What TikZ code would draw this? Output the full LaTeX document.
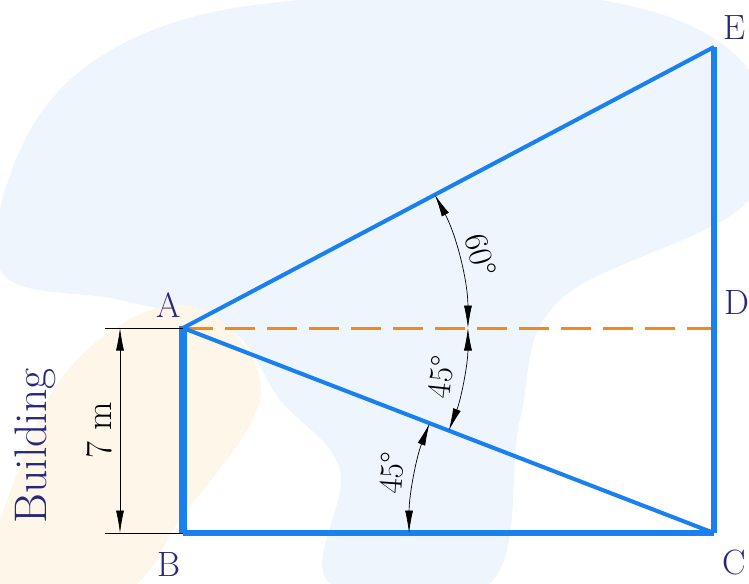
\documentclass[tikz,border=0pt]{standalone}
\usepackage{fontspec}
\usetikzlibrary{arrows.meta,positioning}
\definecolor{lineblue}{HTML}{1A80F0}
\definecolor{navy}{HTML}{28287A}
\definecolor{dashorange}{HTML}{F58A12}
\definecolor{washblue}{HTML}{EFF5FC}
\definecolor{washsand}{HTML}{FDF6E9}

\begin{document}
\begin{tikzpicture}[x=0.02cm,y=0.02cm,>=Latex]
  \tikzset{ptlabel/.style={text=navy,font=\fontsize{20}{22}\selectfont},
    side/.style={lineblue,line width=2.3pt},
    dimline/.style={black,thin,<->,>={Latex[length=4.5mm,width=1.6mm]}},
    anglabel/.style={font=\fontsize{19}{21}\selectfont}}
  \useasboundingbox (0,0) rectangle (749,583);
  % faint background wash
  \fill[washblue] plot[smooth cycle,tension=0.6] coordinates {(0,313) (30,453) (130,543)
    (300,583) (600,583) (749,513) (749,383) (560,283) (520,163) (490,0) (330,0)
    (340,113) (280,183) (230,253) (120,283)};
  \fill[washsand] plot[smooth cycle,tension=0.6] coordinates {(-20,-10) (0,63) (60,203)
    (150,273) (220,263) (260,183) (180,63) (120,-10)};
  % points
  \coordinate (A) at (183,255);
  \coordinate (B) at (183,50);
  \coordinate (C) at (714,50);
  \coordinate (D) at (714,255);
  \coordinate (E) at (714,536);
  \node[ptlabel] (lA) at (169,278) {A};
  \node[ptlabel] (lB) at (169,19) {B};
  \node[ptlabel] (lC) at (734,21) {C};
  \node[ptlabel] (lD) at (737,281) {D};
  \node[ptlabel] (lE) at (735,555) {E};
  % triangles
  \draw[dashorange,line width=1.7pt,dash pattern=on 0.6cm off 0.24cm] (A) -- (D);
  \draw[side] (A) -- (E);
  \draw[side] (A) -- (C);
  \draw[side,line width=2.9pt] (D) -- (E);
  \draw[side,line width=2.9pt] (C) -- (D);
  \draw[side,line width=3.4pt] (B) -- (C);
  \draw[side,line width=4pt] (B) -- ([yshift=1pt]A);
  % height of building
  \coordinate (extA) at (105,255);
  \coordinate (extB) at (105,50);
  \coordinate (dimT) at (120,255);
  \coordinate (dimB) at (120,50);
  \draw[black,thin] (extA) -- (A);
  \draw[black,thin] (extB) -- (B);
  \draw[dimline] (dimB) -- (dimT);
  \node[rotate=90,font=\fontsize{21}{23}\selectfont] (height) at (99,153) {7 m};
  \node[rotate=90,text=navy,font=\fontsize{26}{28}\selectfont] (bldg) at (35,137) {Building};
  % angles
  \path (A) ++(27.9:5.7cm) coordinate (a1);
  \path (A) ++(0:5.7cm) coordinate (a2);
  \path (C) ++(180:6.1cm) coordinate (c1);
  \draw[dimline] (a1) arc[start angle=27.9,end angle=0,radius=5.7cm];
  \draw[dimline] (a2) arc[start angle=0,end angle=-21.1,radius=5.7cm];
  \draw[dimline] (c1) arc[start angle=180,end angle=158.9,radius=6.1cm];
  \node[rotate=-75,anglabel] (ang60) at (481,328) {60°};
  \node[rotate=84,anglabel] (ang45a) at (441,206) {45°};
  \node[rotate=86,anglabel] (ang45b) at (392,110) {45°};
\end{tikzpicture}
\end{document}
